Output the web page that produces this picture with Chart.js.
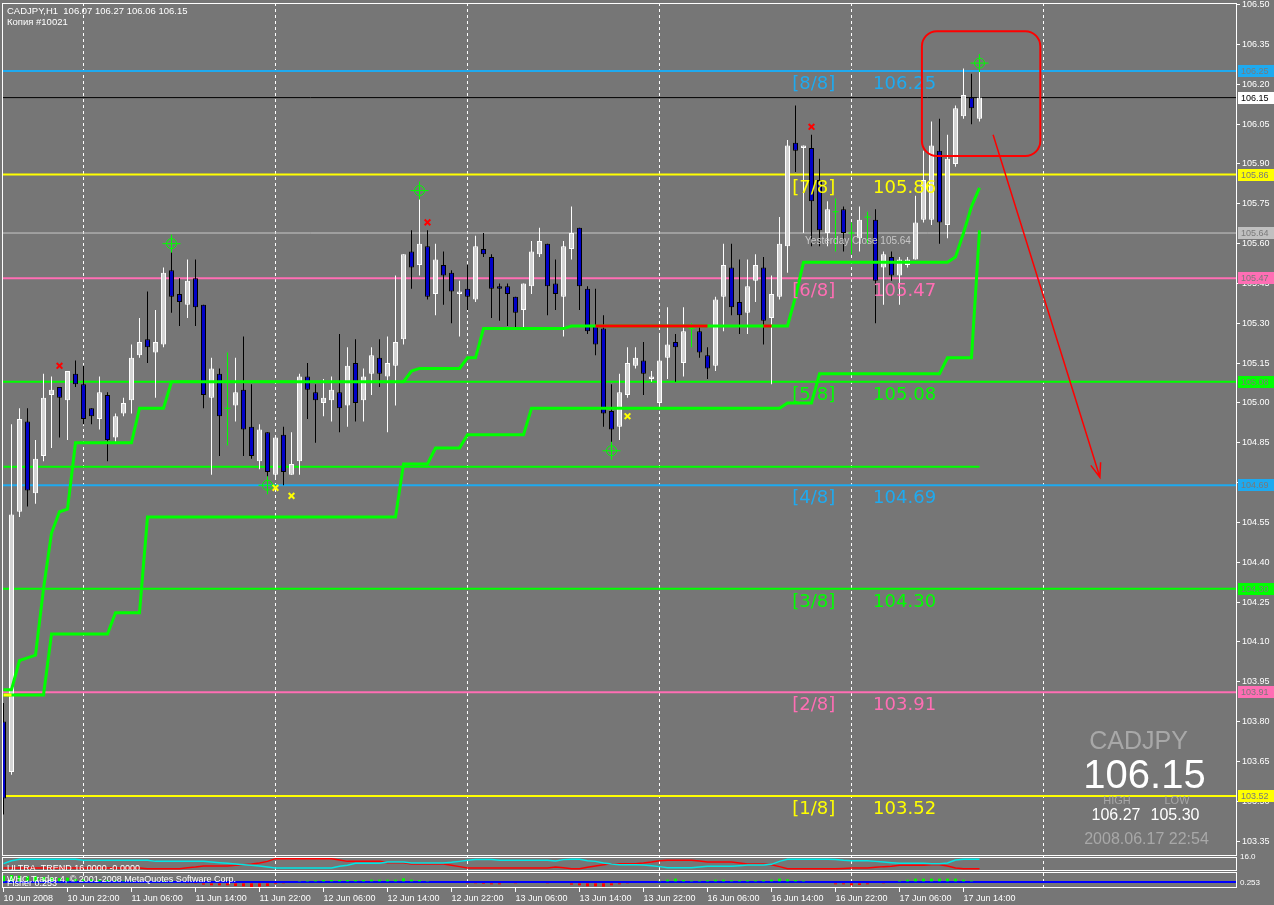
<!DOCTYPE html>
<html>
<head>
<meta charset="utf-8">
<title>CADJPY,H1</title>
<script src="https://cdn.jsdelivr.net/npm/chart.js@4.4.0/dist/chart.umd.min.js"></script>
<style>
    html, body { margin: 0; padding: 0; background: #767676; }
    canvas { display: block; }
</style>
</head>
<body>
<canvas id="grafica" width="1274" height="905"></canvas>
<script>
const symbol = 'CADJPY';
const timeframe = 'H1';
const accountName = 'Копия #10021';
const serverTime = '2008.06.17 22:54';
const copyright = 'WHC Trader 4, © 2001-2008 MetaQuotes Software Corp.';

// hourly bars from 10 Jun 2008 14:00 to 17 Jun 2008 16:00
const barOpen = [
    103.80, 103.61, 104.59, 104.93, 104.66, 104.80, 105.03, 105.06, 105.01, 105.11,
    105.07, 104.98, 104.94, 105.03, 104.87, 104.96, 105.01, 105.18, 105.24, 105.19,
    105.22, 105.50, 105.41, 105.37, 105.47, 105.37, 105.02, 105.11, 104.98, 104.99,
    105.05, 104.91, 104.78, 104.89, 104.73, 104.88, 104.73, 104.78, 105.10, 105.04,
    105.00, 105.01, 105.04, 104.99, 105.15, 105.01, 105.11, 105.17, 105.10, 105.14,
    105.24, 105.57, 105.52, 105.59, 105.41, 105.52, 105.49, 105.41, 105.43, 105.39,
    105.58, 105.55, 105.44, 105.44, 105.40, 105.35, 105.44, 105.56, 105.60, 105.45,
    105.40, 105.58, 105.66, 105.43, 105.29, 105.28, 104.97, 104.91, 105.03, 105.14,
    105.16, 105.09, 105.00, 105.17, 105.23, 105.15, 105.28, 105.27, 105.18, 105.14,
    105.40, 105.51, 105.38, 105.34, 105.46, 105.51, 105.32, 105.40, 105.59, 105.98,
    105.96, 105.96, 105.84, 105.64, 105.72, 105.73, 105.64, 105.62, 105.70, 105.69,
    105.51, 105.55, 105.48, 105.52, 105.54, 105.69, 105.69, 105.95, 105.67, 105.90,
    106.08, 106.15, 106.07
];
const barHigh = [
    103.87, 104.92, 104.98, 104.98, 104.86, 105.11, 105.10, 105.06, 105.12, 105.16,
    105.14, 104.98, 105.10, 105.04, 104.96, 105.02, 105.22, 105.32, 105.42, 105.35,
    105.51, 105.58, 105.47, 105.54, 105.54, 105.37, 105.17, 105.13, 105.19, 105.17,
    105.25, 105.07, 104.92, 104.89, 104.87, 104.91, 104.89, 105.11, 105.15, 105.07,
    105.09, 105.10, 105.26, 105.21, 105.24, 105.13, 105.21, 105.24, 105.25, 105.48,
    105.56, 105.65, 105.79, 105.65, 105.60, 105.57, 105.50, 105.46, 105.52, 105.63,
    105.64, 105.56, 105.45, 105.45, 105.40, 105.45, 105.61, 105.66, 105.60, 105.54,
    105.61, 105.74, 105.66, 105.44, 105.43, 105.33, 105.07, 105.11, 105.21, 105.21,
    105.23, 105.12, 105.26, 105.36, 105.26, 105.36, 105.30, 105.29, 105.21, 105.40,
    105.60, 105.60, 105.54, 105.54, 105.56, 105.55, 105.48, 105.70, 105.99, 106.12,
    105.97, 106.01, 105.92, 105.76, 105.77, 105.74, 105.68, 105.74, 105.72, 105.73,
    105.57, 105.57, 105.55, 105.55, 105.78, 105.95, 106.06, 106.07, 106.01, 106.12,
    106.26, 106.24, 106.27
];
const barLow = [
    103.45, 103.60, 104.57, 104.61, 104.62, 104.78, 104.83, 104.87, 104.86, 105.06,
    104.92, 104.92, 104.90, 104.78, 104.85, 104.95, 104.96, 105.17, 105.15, 105.02,
    105.21, 105.34, 105.29, 105.32, 105.29, 104.98, 104.73, 104.80, 104.84, 104.93,
    104.80, 104.79, 104.75, 104.71, 104.72, 104.69, 104.73, 104.73, 104.94, 104.85,
    104.95, 104.93, 104.89, 104.91, 104.93, 104.93, 105.03, 105.06, 104.89, 104.99,
    105.22, 105.43, 105.48, 105.39, 105.33, 105.37, 105.30, 105.25, 105.35, 105.38,
    105.55, 105.32, 105.31, 105.29, 105.28, 105.28, 105.41, 105.55, 105.33, 105.35,
    105.25, 105.54, 105.35, 105.26, 105.18, 104.91, 104.80, 104.86, 105.02, 105.13,
    105.03, 105.08, 104.99, 105.09, 105.08, 105.10, 105.21, 105.17, 105.09, 105.12,
    105.27, 105.33, 105.26, 105.26, 105.38, 105.22, 105.07, 105.39, 105.49, 105.87,
    105.64, 105.59, 105.59, 105.59, 105.57, 105.57, 105.56, 105.57, 105.60, 105.30,
    105.37, 105.46, 105.37, 105.51, 105.54, 105.68, 105.67, 105.60, 105.62, 105.89,
    106.07, 106.05, 106.06
];
const barClose = [
    103.51, 104.58, 104.94, 104.67, 104.79, 105.02, 105.05, 105.02, 105.12, 105.07,
    104.94, 104.95, 105.04, 104.86, 104.95, 105.00, 105.17, 105.23, 105.21, 105.23,
    105.49, 105.40, 105.38, 105.46, 105.36, 105.03, 105.13, 104.95, 104.98, 105.04,
    104.90, 104.80, 104.90, 104.74, 104.87, 104.74, 104.77, 105.10, 105.05, 105.01,
    105.02, 105.05, 104.98, 105.14, 105.00, 105.10, 105.18, 105.11, 105.15, 105.23,
    105.56, 105.51, 105.60, 105.40, 105.54, 105.48, 105.42, 105.42, 105.40, 105.59,
    105.56, 105.43, 105.43, 105.41, 105.34, 105.45, 105.57, 105.61, 105.44, 105.41,
    105.59, 105.64, 105.44, 105.27, 105.22, 104.96, 104.90, 105.04, 105.15, 105.17,
    105.11, 105.10, 105.16, 105.22, 105.21, 105.27, 105.28, 105.19, 105.13, 105.39,
    105.52, 105.36, 105.33, 105.44, 105.52, 105.31, 105.41, 105.60, 105.97, 105.95,
    105.97, 105.76, 105.65, 105.73, 105.72, 105.64, 105.64, 105.69, 105.70, 105.46,
    105.56, 105.48, 105.54, 105.54, 105.68, 105.84, 105.97, 105.68, 105.92, 106.11,
    106.16, 106.11, 106.15
];

const timeLabels = [
    '10 Jun 2008', '10 Jun 22:00', '11 Jun 06:00', '11 Jun 14:00', '11 Jun 22:00',
    '12 Jun 06:00', '12 Jun 14:00', '12 Jun 22:00', '13 Jun 06:00', '13 Jun 14:00',
    '13 Jun 22:00', '16 Jun 06:00', '16 Jun 14:00', '16 Jun 22:00', '17 Jun 06:00',
    '17 Jun 14:00'
];
const dayBreaks = [10, 34, 58, 82, 106, 130];
const priceTicks = [
    103.35, 103.50, 103.65, 103.80, 103.95, 104.10, 104.25, 104.40, 104.55, 104.70, 104.85,
    105.00, 105.15, 105.30, 105.45, 105.60, 105.75, 105.90, 106.05, 106.20, 106.35, 106.50
];

const murreyNames = ['[8/8]', '[7/8]', '[6/8]', '[5/8]', '[4/8]', '[3/8]', '[2/8]', '[1/8]'];
const murreyLevels = [106.25, 105.86, 105.47, 105.08, 104.69, 104.30, 103.91, 103.52];
const murreyColors = ['#1eaaf0', '#ffff00', '#ff6eb4', '#00ff00', '#1eaaf0', '#00ff00', '#ff6eb4', '#ffff00'];
const yesterdayClose = 105.64;
const supportLevel = 104.76;

const stopUpper = [
    103.92, 103.92, 104.03, 104.04, 104.05, 104.30, 104.51, 104.59, 104.60, 104.85,
    104.85, 104.85, 104.85, 104.85, 104.85, 104.85, 104.85, 104.98, 104.98, 104.98,
    104.98, 105.08, 105.08, 105.08, 105.08, 105.08, 105.08, 105.08, 105.08, 105.08,
    105.08, 105.08, 105.08, 105.08, 105.08, 105.08, 105.08, 105.08, 105.08, 105.08,
    105.08, 105.08, 105.08, 105.08, 105.08, 105.08, 105.08, 105.08, 105.08, 105.08,
    105.08, 105.12, 105.13, 105.13, 105.13, 105.13, 105.13, 105.13, 105.17, 105.17,
    105.28, 105.28, 105.28, 105.28, 105.28, 105.28, 105.28, 105.28, 105.28, 105.28,
    105.28, 105.29, 105.29, 105.29, 105.29, 105.29, 105.29, 105.29, 105.29, 105.29,
    105.29, 105.29, 105.29, 105.29, 105.29, 105.29, 105.29, 105.29, 105.29, 105.29,
    105.29, 105.29, 105.29, 105.29, 105.29, 105.29, 105.29, 105.29, 105.29, 105.40,
    105.53, 105.53, 105.53, 105.53, 105.53, 105.53, 105.53, 105.53, 105.53, 105.53,
    105.53, 105.53, 105.53, 105.53, 105.53, 105.53, 105.53, 105.53, 105.53, 105.55,
    105.64, 105.74, 105.81
];
const stopUpperRedBars = [74, 75, 76, 77, 78, 79, 80, 81, 82, 83, 84, 85, 86, 87, 88, 95, 96];
const stopLower = [
    103.90, 103.90, 103.90, 103.90, 103.90, 103.90, 104.13, 104.13, 104.13, 104.13,
    104.13, 104.13, 104.13, 104.13, 104.21, 104.21, 104.21, 104.21, 104.57, 104.57,
    104.57, 104.57, 104.57, 104.57, 104.57, 104.57, 104.57, 104.57, 104.57, 104.57,
    104.57, 104.57, 104.57, 104.57, 104.57, 104.57, 104.57, 104.57, 104.57, 104.57,
    104.57, 104.57, 104.57, 104.57, 104.57, 104.57, 104.57, 104.57, 104.57, 104.57,
    104.77, 104.77, 104.77, 104.77, 104.83, 104.83, 104.83, 104.83, 104.88, 104.88,
    104.88, 104.88, 104.88, 104.88, 104.88, 104.88, 104.98, 104.98, 104.98, 104.98,
    104.98, 104.98, 104.98, 104.98, 104.98, 104.98, 104.98, 104.98, 104.98, 104.98,
    104.98, 104.98, 104.98, 104.98, 104.98, 104.98, 104.98, 104.98, 104.98, 104.98,
    104.98, 104.98, 104.98, 104.98, 104.98, 104.98, 104.98, 104.98, 105.00, 105.00,
    105.00, 105.00, 105.11, 105.11, 105.11, 105.11, 105.11, 105.11, 105.11, 105.11,
    105.11, 105.11, 105.11, 105.11, 105.11, 105.11, 105.11, 105.11, 105.17, 105.17,
    105.17, 105.17, 105.65
];
const stopLowerYellowBars = [0, 1];

const upFractalBars = [7, 53, 101];
const upFractalPrices = [105.14, 105.68, 106.04];
const downFractalBars = [34, 36, 78];
const downFractalPrices = [104.68, 104.65, 104.95];
const targetBars = [21, 33, 52, 76, 122];
const targetPrices = [105.60, 104.69, 105.80, 104.82, 106.28];

// drawn annotations, in bar / price units
const boxCorners = [114.8, 106.40, 129.6, 105.93];
const arrowEnds = [123.7, 106.01, 137.05, 104.72];

const ultraParams = '16.0000 -0.0000';
const ultraCyan = [
    8.4, 11.8, 13.3, 13.3, 13.3, 13.3, 13.3, 13.3, 13.3, 13.3,
    12.2, 12.2, 12.2, 12.2, 12.2, 12.2, 12.2, 12.2, 12.2, 11.0,
    11.0, 11.0, 11.0, 11.0, 11.0, 11.0, 10.3, 9.5, 8.8, 8.0,
    7.2, 6.5, 5.7, 4.6, 3.4, 3.4, 3.4, 3.4, 3.4, 3.4,
    3.4, 3.4, 5.3, 6.5, 8.8, 8.8, 8.8, 8.8, 10.3, 10.3,
    10.3, 9.1, 9.1, 9.1, 9.1, 9.1, 9.9, 11.0, 12.2, 13.0,
    13.0, 13.0, 12.2, 12.2, 12.2, 12.2, 12.2, 12.2, 12.2, 11.4,
    13.0, 13.3, 13.3, 11.8, 11.0, 9.1, 8.0, 7.2, 7.2, 7.2,
    6.9, 6.1, 5.0, 3.8, 3.8, 3.8, 3.8, 4.6, 5.3, 5.3,
    5.3, 5.3, 6.1, 6.9, 6.9, 6.9, 7.6, 11.0, 13.3, 13.3,
    13.3, 13.3, 13.3, 13.3, 13.0, 12.2, 11.8, 11.8, 11.8, 11.0,
    10.3, 9.5, 8.8, 8.8, 8.8, 8.8, 8.4, 8.4, 9.1, 12.6,
    13.3, 13.3, 13.3
];
const ultraRed = [
    3.4, 3.4, 3.4, 3.4, 3.4, 3.4, 3.4, 3.4, 3.4, 3.4,
    3.4, 3.4, 3.4, 3.4, 3.4, 3.4, 3.4, 3.4, 2.7, 2.7,
    2.7, 2.7, 2.7, 3.8, 4.6, 5.7, 5.7, 5.7, 5.7, 6.5,
    7.2, 8.0, 9.1, 11.0, 14.1, 14.1, 14.1, 14.1, 14.1, 14.1,
    14.1, 14.1, 12.6, 11.0, 11.0, 11.0, 11.0, 11.0, 9.5, 9.5,
    9.5, 8.0, 8.0, 8.0, 8.0, 8.0, 6.5, 5.0, 3.4, 3.4,
    3.4, 3.4, 3.4, 3.4, 3.4, 3.4, 3.4, 3.4, 3.4, 4.6,
    3.8, 2.7, 2.7, 4.2, 5.7, 7.2, 8.4, 8.4, 8.4, 8.4,
    9.1, 10.3, 11.8, 12.2, 12.2, 12.2, 12.2, 11.4, 10.3, 10.3,
    10.3, 10.3, 9.1, 8.0, 8.0, 8.0, 7.2, 5.0, 2.7, 2.7,
    2.7, 2.7, 2.7, 2.7, 2.7, 3.0, 3.4, 3.4, 3.4, 4.2,
    5.0, 5.3, 6.5, 6.5, 6.5, 6.5, 7.2, 7.2, 5.7, 3.4,
    2.7, 2.7, 2.7
];
const fisherNow = 0.253;
const fisher = [
    2.0, 2.2, 2.0, 1.8, 1.9, 1.6, 1.5, 1.3, 1.4, 1.0,
    0.9, 0.9, 0.8, 0.7, 0.6, 0.5, 0.5, 0.4, 0.3, 0.2,
    0.1, 0.1, 0.0, -0.2, -0.4, -0.7, -0.9, -0.9, -0.9, -1.1,
    -1.2, -1.4, -1.3, -1.1, -0.5, -0.2, 0.0, 0.4, 0.5, 0.6,
    0.7, 0.7, 0.7, 0.7, 0.7, 0.7, 0.8, 0.8, 0.8, 0.8,
    1.2, 0.8, 0.7, 0.4, 0.3, 0.0, 0.0, 0.0, -0.4, -0.2,
    -0.5, -0.6, -0.6, -0.3, -0.2, 0.0, 0.0, 0.0, -0.2, -0.3,
    -0.3, -0.7, -0.9, -1.2, -1.2, -1.3, -0.9, -0.6, -0.2, 0.0,
    0.0, 0.3, 0.4, 0.8, 1.1, 0.7, 0.5, 0.5, 0.6, 0.8,
    0.8, 0.6, 0.6, 0.6, 0.6, 0.6, 0.8, 1.1, 0.9, 0.7,
    0.5, 0.3, 0.0, -0.3, -0.6, -0.6, -0.9, -0.8, -0.6, -0.3,
    -0.2, 0.0, 0.5, 0.8, 1.1, 1.1, 1.1, 1.1, 1.1, 1.1,
    0.8, 0.5, 0.3
];

const fondo = '#767676';
const axisFont = { family: '"Liberation Sans", Arial, sans-serif', size: 9 };
const axisFontCss = '9px "Liberation Sans", Arial, sans-serif';
const xMin = -0.1875;
const xMax = 154.0625;

const grafica = document.getElementById('grafica');

const bodyBull = [], bodyBear = [], wickBull = [], wickBear = [], wickDoji = [], dojiMarks = [];
barOpen.forEach((o, i) => {
    const c = barClose[i];
    const wick = { x: i, y: [barLow[i], barHigh[i]] };
    if (c > o) {
        bodyBull.push({ x: i, y: [o, c] });
        wickBull.push(wick);
    } else if (c < o) {
        bodyBear.push({ x: i, y: [c, o] });
        wickBear.push(wick);
    } else {
        wickDoji.push(wick);
        dojiMarks.push({ x: i, y: o });
    }
});

const toPoints = (values) => values.map((v, i) => ({ x: i, y: v }));
const pick = (values, bars) => values.map((v, i) => ({ x: i, y: bars.includes(i) ? v : null }));
const pairPoints = (bars, prices) => bars.map((b, i) => ({ x: b, y: prices[i] }));
const hline = (v) => [{ x: xMin, y: v }, { x: xMax, y: v }];

function lineSet(data, color, width, order, axis) {
    return {
        type: 'line', data: data, yAxisID: axis || 'y',
        borderColor: color, borderWidth: width, pointRadius: 0,
        tension: 0, spanGaps: false, order: order
    };
}
function barSet(data, fill, border, thickness, order, axis) {
    return {
        type: 'bar', data: data, yAxisID: axis || 'y', grouped: false,
        backgroundColor: fill, borderColor: border, borderWidth: border ? 1 : 0,
        borderSkipped: false, barThickness: thickness, inflateAmount: 0, order: order
    };
}
function markSet(data, style, color, radius, width, order) {
    return {
        type: 'line', data: data, showLine: false, pointStyle: style,
        pointRadius: radius, pointBorderColor: color, pointBackgroundColor: 'rgba(0,0,0,0)',
        pointBorderWidth: width, borderColor: color, order: order
    };
}

const lastBar = barOpen.length - 1;
const dayStart = dayBreaks[4];
const dayHigh = Math.max(...barHigh.slice(dayStart));
const dayLow = Math.min(...barLow.slice(dayStart));

const datasets = [];
murreyLevels.forEach((v, i) => datasets.push(lineSet(hline(v), murreyColors[i], 2, 50)));
datasets.push(lineSet(hline(yesterdayClose), '#c8c8c8', 1, 50));
datasets.push(lineSet(hline(barClose[lastBar]), '#000000', 1, 50));
datasets.push(lineSet([{ x: 0, y: supportLevel }, { x: lastBar, y: supportLevel }], '#00ff00', 2, 45));
datasets.push(barSet(wickBull, '#ffffff', null, 1, 40));
datasets.push(barSet(wickBear, '#000000', null, 1, 40));
datasets.push(barSet(wickDoji, '#00ff00', null, 1, 40));
datasets.push(barSet(bodyBull, '#d4d4d4', '#ffffff', 5, 35));
datasets.push(barSet(bodyBear, '#0000c8', '#000000', 5, 35));
datasets.push(markSet(dojiMarks, 'line', '#00ff00', 3, 1, 34));
datasets.push(lineSet(toPoints(stopUpper), '#00ff00', 3, 30));
datasets.push(lineSet(toPoints(stopLower), '#00ff00', 3, 30));
datasets.push(lineSet(pick(stopUpper, stopUpperRedBars), '#ff0000', 3, 29));
datasets.push(lineSet(pick(stopLower, stopLowerYellowBars), '#ffff00', 3, 29));
datasets.push(markSet(pairPoints(upFractalBars, upFractalPrices), 'crossRot', '#ff0000', 4, 2, 20));
datasets.push(markSet(pairPoints(downFractalBars, downFractalPrices), 'crossRot', '#ffff00', 4, 2, 20));
datasets.push(markSet(pairPoints(targetBars, targetPrices), 'circle', '#00ff00', 5, 1, 20));
datasets.push(markSet(pairPoints(targetBars, targetPrices), 'cross', '#00ff00', 9, 1, 20));
datasets.push(lineSet(toPoints(ultraCyan), '#00e6e6', 1.5, 10, 'y2'));
datasets.push(lineSet(toPoints(ultraRed), '#ff0000', 1.5, 10, 'y2'));
datasets.push({
    type: 'bar', data: toPoints(fisher), yAxisID: 'y3', grouped: false,
    backgroundColor: fisher.map(v => v >= 0 ? '#00ff00' : '#ff0000'),
    barThickness: 3, inflateAmount: 0, order: 10
});

function roundBox(ctx, x0, y0, x1, y1, r) {
    ctx.beginPath();
    ctx.moveTo(x0 + r, y0);
    ctx.arcTo(x1, y0, x1, y1, r);
    ctx.arcTo(x1, y1, x0, y1, r);
    ctx.arcTo(x0, y1, x0, y0, r);
    ctx.arcTo(x0, y0, x1, y0, r);
    ctx.closePath();
    ctx.stroke();
}

const decoraciones = {
    id: 'decoraciones',
    beforeDraw(chart) {
        const ctx = chart.ctx;
        ctx.save();
        ctx.fillStyle = fondo;
        ctx.fillRect(0, 0, chart.width, chart.height);
        ctx.restore();
    },
    afterDatasetsDraw(chart) {
        const { ctx, scales: { x, y } } = chart;
        ctx.save();
        ctx.textAlign = 'left';
        ctx.textBaseline = 'alphabetic';
        ctx.font = '18px "DejaVu Sans"';
        murreyLevels.forEach((v, i) => {
            const py = y.getPixelForValue(v) + 18;
            ctx.fillStyle = murreyColors[i];
            ctx.fillText(murreyNames[i], x.getPixelForValue(98.6), py);
            ctx.fillText(v.toFixed(2), x.getPixelForValue(108.7), py);
        });
        ctx.font = '10px "Liberation Sans"';
        ctx.fillStyle = '#c8c8c8';
        ctx.fillText('Yesterday Close ' + yesterdayClose.toFixed(2),
            x.getPixelForValue(100.2), y.getPixelForValue(yesterdayClose) + 11);

        ctx.strokeStyle = '#ff0000';
        ctx.lineWidth = 2;
        roundBox(ctx, x.getPixelForValue(boxCorners[0]), y.getPixelForValue(boxCorners[1]),
            x.getPixelForValue(boxCorners[2]), y.getPixelForValue(boxCorners[3]), 15);
        const ax0 = x.getPixelForValue(arrowEnds[0]), ay0 = y.getPixelForValue(arrowEnds[1]);
        const ax1 = x.getPixelForValue(arrowEnds[2]), ay1 = y.getPixelForValue(arrowEnds[3]);
        const ang = Math.atan2(ay1 - ay0, ax1 - ax0);
        ctx.lineWidth = 1.5;
        ctx.beginPath();
        ctx.moveTo(ax0, ay0);
        ctx.lineTo(ax1, ay1);
        ctx.moveTo(ax1 - 15 * Math.cos(ang - 0.35), ay1 - 15 * Math.sin(ang - 0.35));
        ctx.lineTo(ax1, ay1);
        ctx.lineTo(ax1 - 15 * Math.cos(ang + 0.35), ay1 - 15 * Math.sin(ang + 0.35));
        ctx.stroke();
        ctx.restore();
    },
    afterDraw(chart) {
        const { ctx, chartArea, scales: { y, y2, y3 } } = chart;
        const left = chartArea.left, right = chartArea.right;
        ctx.save();
        ctx.strokeStyle = '#ffffff';
        ctx.lineWidth = 1;
        ctx.strokeRect(left + 0.5, y.top + 0.5, right - left, y.bottom - y.top - 1);
        ctx.strokeRect(left + 0.5, y2.top + 1.5, right - left, y2.bottom - y2.top - 3);
        ctx.strokeRect(left + 0.5, y3.top + 0.5, right - left, y3.bottom - y3.top - 1);

        // price labels on the right axis
        const boxes = murreyLevels.map((v, i) => [v, murreyColors[i], '#7a7a7a']);
        boxes.push([yesterdayClose, '#c0c0c0', '#7a7a7a']);
        boxes.push([barClose[lastBar], '#ffffff', '#000000']);
        ctx.font = axisFontCss;
        ctx.textBaseline = 'middle';
        boxes.forEach(([v, bg, fg]) => {
            const py = Math.round(y.getPixelForValue(v));
            ctx.fillStyle = bg;
            ctx.fillRect(right + 2, py - 6, 36, 12);
            ctx.fillStyle = fg;
            ctx.fillText(v.toFixed(2), right + 5, py + 0.5);
        });

        // header and panel captions
        ctx.textBaseline = 'alphabetic';
        ctx.fillStyle = '#ffffff';
        ctx.font = '9.5px "Liberation Sans", Arial, sans-serif';
        const head = [barOpen[lastBar], barHigh[lastBar], barLow[lastBar], barClose[lastBar]].map(v => v.toFixed(2)).join(' ');
        ctx.fillText(symbol + ',' + timeframe + '  ' + head, left + 5, y.top + 11);
        ctx.fillText(accountName, left + 5, y.top + 21.5);
        ctx.font = axisFontCss;
        ctx.fillText('ULTRA_TREND ' + ultraParams, left + 5, y2.bottom - 1.5);
        ctx.fillText(copyright, left + 5, y3.top + 9.5);
        ctx.fillText('Fisher ' + fisherNow.toFixed(3), left + 5, y3.top + 14);

        // quote block
        ctx.textAlign = 'center';
        ctx.font = '25px "Liberation Sans"';
        ctx.fillStyle = '#a8a8a8';
        ctx.fillText(symbol, right - 97.5, y.bottom - 107);
        ctx.font = '40px "Liberation Sans"';
        ctx.fillStyle = '#ffffff';
        ctx.fillText(barClose[lastBar].toFixed(2), right - 91.5, y.bottom - 68);
        ctx.font = '11px "Liberation Sans"';
        ctx.fillStyle = '#a8a8a8';
        ctx.fillText('HIGH', right - 119, y.bottom - 52);
        ctx.fillText('LOW', right - 59, y.bottom - 52);
        ctx.font = '16px "Liberation Sans"';
        ctx.fillStyle = '#ffffff';
        ctx.fillText(dayHigh.toFixed(2), right - 120, y.bottom - 36);
        ctx.fillText(dayLow.toFixed(2), right - 61, y.bottom - 36);
        ctx.fillStyle = '#a8a8a8';
        ctx.fillText(serverTime, right - 89.5, y.bottom - 12);
        ctx.restore();
    }
};

const noPadding = (s) => {
    s.paddingTop = 0;
    s.paddingBottom = 0;
    s.paddingLeft = 0;
    s.paddingRight = 0;
};

const rightAxis = (extra) => Object.assign({
    type: 'linear', position: 'right', stack: 'panels', bounds: 'data',
    border: { display: false },
    afterFit: (s) => { s.width = 38; noPadding(s); }
}, extra);

const myChart = new Chart(grafica, {
    type: 'bar',
    data: { datasets: datasets },
    options: {
        responsive: false,
        animation: false,
        events: [],
        layout: { autoPadding: false, padding: { left: 2, top: 3, right: 0, bottom: 0 } },
        plugins: { legend: { display: false }, tooltip: { enabled: false } },
        scales: {
            x: {
                type: 'linear', position: 'bottom', min: xMin, max: xMax, offset: false, bounds: 'data',
                grid: { drawOnChartArea: false, tickLength: 4, color: '#ffffff', offset: false },
                border: { display: false },
                ticks: {
                    autoSkip: false, maxRotation: 0, align: 'start', padding: 1, color: '#ffffff', font: axisFont,
                    callback: (v) => timeLabels[Math.round(v / 8)] || ''
                },
                afterBuildTicks: (s) => { s.ticks = timeLabels.map((t, i) => ({ value: i * 8 })); },
                afterFit: (s) => { s.height = 17; noPadding(s); }
            },
            xDays: {
                type: 'linear', axis: 'x', position: 'bottom', min: xMin, max: xMax, offset: false, bounds: 'data',
                grid: { drawOnChartArea: true, drawTicks: false, color: '#ffffff', lineWidth: 1, offset: false },
                border: { display: false, dash: [3, 3] },
                ticks: { display: false },
                afterBuildTicks: (s) => { s.ticks = dayBreaks.map(v => ({ value: v })); },
                afterFit: (s) => { s.height = 0; noPadding(s); }
            },
            y: rightAxis({
                stackWeight: 853, weight: 0, min: 103.2936, max: 106.5064,
                grid: { drawOnChartArea: false, tickLength: 4, color: '#ffffff' },
                ticks: { color: '#ffffff', font: axisFont, padding: 2, callback: (v) => v.toFixed(2) },
                afterBuildTicks: (s) => { s.ticks = priceTicks.map(v => ({ value: v })); }
            }),
            y2: rightAxis({
                stackWeight: 16, weight: 1, min: -1.14, max: 17.14,
                grid: { drawOnChartArea: false, drawTicks: false },
                ticks: { color: '#ffffff', font: { family: axisFont.family, size: 8 }, padding: 4, callback: (v) => v.toFixed(1) },
                afterBuildTicks: (s) => { s.ticks = [{ value: 16 }, { value: 0 }]; }
            }),
            y3: rightAxis({
                stackWeight: 16, weight: 2, min: -1.7, max: 3.1,
                grid: { drawOnChartArea: true, drawTicks: false, color: '#0000ff', lineWidth: 2 },
                ticks: { color: '#ffffff', font: { family: axisFont.family, size: 8 }, padding: 4, callback: () => fisherNow.toFixed(3) },
                afterBuildTicks: (s) => { s.ticks = [{ value: 0 }]; }
            })
        }
    },
    plugins: [decoraciones]
});
</script>
</body>
</html>
